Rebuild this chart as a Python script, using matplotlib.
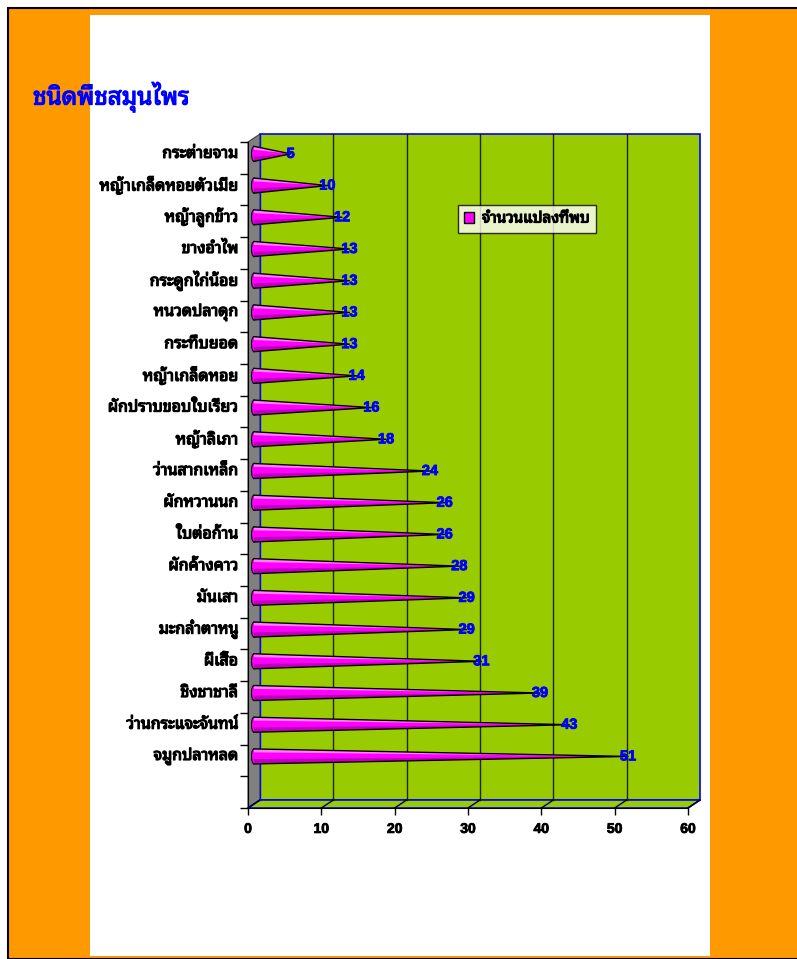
import numpy as np
import matplotlib
matplotlib.use('Agg')
import matplotlib.pyplot as plt
import matplotlib.patches as mpatches
import matplotlib.patheffects as pe
from matplotlib import font_manager

# data (top to bottom as in the chart)
herbs = ['กระต่ายจาม', 'หญ้าเกล็ดหอยตัวเมีย', 'หญ้าลูกข้าว', 'ขางอำไพ', 'กระดูกไก่น้อย',
         'หนวดปลาดุก', 'กระทืบยอด', 'หญ้าเกล็ดหอย', 'ผักปราบขอบใบเรียว', 'หญ้าลิเภา',
         'ว่านสากเหล็ก', 'ผักหวานนก', 'ใบต่อก้าน', 'ผักค้างคาว', 'มันเสา',
         'มะกล่ำตาหนู', 'ผีเสื้อ', 'ชิงชาชาลี', 'ว่านกระแจะจันทน์', 'จมูกปลาหลด']
counts = [5, 10, 12, 13, 13, 13, 13, 14, 16, 18, 24, 26, 26, 28, 29, 29, 31, 39, 43, 51]
xticks = [0, 10, 20, 30, 40, 50, 60]
title = 'ชนิดพืชสมุนไพร'
series_name = 'จำนวนแปลงที่พบ'

thai = ['Noto Sans Thai Looped', 'Loma', 'DejaVu Sans']
plt.rcParams['font.family'] = thai

## look for a real bold file, else fake it with a stroke
def bold_file(name):
    for f in font_manager.fontManager.ttflist:
        if f.name == name and f.weight in (700, 'bold') and f.style == 'normal':
            return f.fname
    return None

thai_bold = bold_file('Noto Sans Thai Looped')

def thai_kw(size, color):
    if thai_bold:
        return dict(fontproperties=font_manager.FontProperties(fname=thai_bold, size=size), color=color)
    return dict(fontsize=size, color=color,
                path_effects=[pe.withStroke(linewidth=0.9, foreground=color)])

def num_kw(size, color):
    return dict(fontsize=size, fontweight='bold', family=['Liberation Sans', 'DejaVu Sans'], color=color,
                path_effects=[pe.withStroke(linewidth=0.6, foreground=color)])

W, H = 797, 959
fig = plt.figure(figsize=(W / 100, H / 100), dpi=100, facecolor='white')

## page background
fig.patches.append(mpatches.Rectangle((8 / W, 0), 1, 1 - 8 / H, transform=fig.transFigure,
                                      fc='#FF9900', ec='black', lw=1.5, zorder=-10))
fig.patches.append(mpatches.Rectangle((90 / W, 3 / H), 620 / W, 941 / H, transform=fig.transFigure,
                                      fc='white', ec='none', zorder=-9))

ax = fig.add_axes([248 / W, (H - 808) / H, 440 / W, 666 / H])
ax.set_zorder(1)
ax.set_xlim(0, 60)
n = len(herbs) + 1
ax.set_ylim(n - 0.5, -0.5)
ax.patch.set_visible(False)
for s in ['top', 'right']:
    ax.spines[s].set_visible(False)

## depth of the 3d box in data units
DX = 12 * 60 / 440
DY = 8 * n / 666
green = '#99CC00'
top, bot = -0.5, n - 0.5

ax.add_patch(mpatches.Rectangle((DX, top - DY), 60, n, fc=green, ec='#0000FF', lw=1.2, zorder=1, clip_on=False))
for v in xticks[1:-1]:
    ax.plot([v + DX, v + DX], [top - DY, bot - DY], color='#222200', lw=1, zorder=1.5, clip_on=False)
ax.add_patch(mpatches.Polygon([(0, top), (DX, top - DY), (DX, bot - DY), (0, bot)],
                              fc='#808080', ec='#404040', lw=0.8, zorder=1.2, clip_on=False))
ax.add_patch(mpatches.Polygon([(0, bot), (60, bot), (60 + DX, bot - DY), (DX, bot - DY)],
                              fc=green, ec='#0000FF', lw=1.2, zorder=1.2, clip_on=False))
for v in xticks:
    ax.plot([v, v + DX], [bot, bot - DY], color='black', lw=1, zorder=1.6, clip_on=False)
ax.plot([DX, DX], [top - DY, bot - DY], color='#0000FF', lw=1, zorder=1.7, clip_on=False)

## cones
hh = 7.5 * n / 666
ew = 5 * 60 / 440
for i, v in enumerate(counts):
    cy = i - DY / 2
    cx = DX / 2
    ax.add_patch(mpatches.Ellipse((cx, cy), ew, 2 * hh, fc='#FF00FF', ec='black', lw=0.8, zorder=3))
    ax.add_patch(mpatches.Polygon([(cx, cy - hh), (cx + v, cy), (cx, cy + hh)], fc='#FF00FF', ec='none', zorder=3.1))
    ax.add_patch(mpatches.Polygon([(cx, cy - hh), (cx + v, cy), (cx, cy - hh * 0.55)], fc='#FF80FF', ec='none', zorder=3.2))
    ax.add_patch(mpatches.Polygon([(cx, cy + hh * 0.35), (cx + v, cy), (cx, cy + hh)], fc='#C000C0', ec='none', zorder=3.2))
    ax.plot([cx, cx + v, cx], [cy - hh, cy, cy + hh], color='black', lw=1, zorder=3.3)
    ax.text(cx + v, cy, str(v), ha='center', va='center', zorder=4, **num_kw(10.5, '#0000FF'))
    ax.annotate(herbs[i], (0, cy), xytext=(-10, 0), textcoords='offset pixels',
                ha='right', va='center', **thai_kw(11.5, 'black'))

## axes
ax.set_yticks(np.arange(n + 1) - 0.5)
ax.set_yticklabels([])
ax.tick_params(axis='y', length=6, width=1, direction='out')
ax.set_xticks(xticks)
ax.set_xticklabels([str(x) for x in xticks])
for t in ax.get_xticklabels():
    t.update(num_kw(10, 'black'))
ax.tick_params(axis='x', length=5, width=1, direction='out', pad=5)
ax.spines['left'].set_zorder(2)
ax.spines['bottom'].set_zorder(2)

leg = fig.legend(handles=[mpatches.Patch(fc='#FF00FF', ec='black', lw=1)], labels=[series_name],
                 loc='center', bbox_to_anchor=(527 / W, 1 - 219 / H), frameon=True, fancybox=False,
                 handlelength=0.7, handleheight=0.7, handletextpad=0.5, borderpad=0.4,
                 prop={'size': 11})
leg.get_frame().set_edgecolor('black')
leg.get_frame().set_linewidth(1)
for t in leg.get_texts():
    t.update(thai_kw(11, 'black'))

fig.text(33 / W, 1 - 97 / H, title, va='center', ha='left', **thai_kw(17.5, '#0000FF'))

plt.savefig('out.png', dpi=100, facecolor='white')
